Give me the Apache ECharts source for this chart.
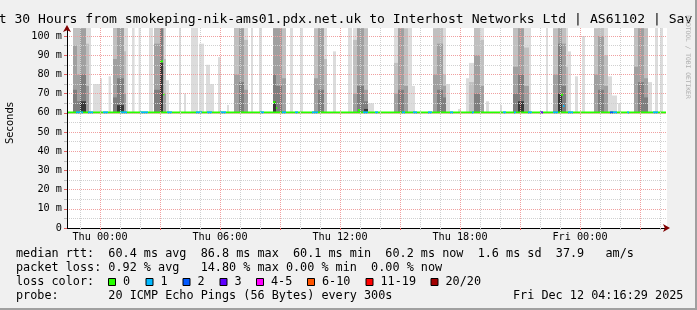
<!DOCTYPE html>
<html><head><meta charset="utf-8">
<script src="https://cdn.jsdelivr.net/npm/echarts@6/dist/echarts.min.js"></script>
<style>
html,body{margin:0;padding:0;background:#f0f0f0;overflow:hidden;}
#c{width:697px;height:310px;position:absolute;left:0;top:0;}
#br{position:absolute;right:0;top:0;width:2px;height:310px;background:#a0a0a0;}
#bb{position:absolute;left:0;bottom:0;width:697px;height:2px;background:#a0a0a0;}
</style></head><body><div id="c"></div><div id="br"></div><div id="bb"></div>
<script>
// ---------- data ----------
// x values are hours relative to Thu 00:00
const hourTicks = [-1,0,1,2,3,4,5,6,7,8,9,10,11,12,13,14,15,16,17,18,19,20,21,22,23,24,25,26,27,28];
const majorHourTicks = [0,3,6,9,12,15,18,21,24,27];
const xLabelHours = [0,6,12,18,24];
const xLabelText = ['Thu 00:00','Thu 06:00','Thu 12:00','Thu 18:00','Fri 00:00'];
const yTicks = [0,5,10,15,20,25,30,35,40,45,50,55,60,65,70,75,80,85,90,95,100];
const yLabelVals = [0,10,20,30,40,50,60,70,80,90,100];
const yLabelText = ['0','10 m','20 m','30 m','40 m','50 m','60 m','70 m','80 m','90 m','100 m'];

// smoke columns: [startHour, endHour, top of band1..band5 (ms)], 0 = band absent, >104 = off chart
const smokeLight = [
  [-0.57,-0.45,110,0,0,0,0],[-0.35,0,75,0,0,0,0],[0,0.1,78,0,0,0,0],[0.43,0.55,79,0,0,0,0],
  [1.3,1.4,110,0,0,0,0],[1.6,1.73,110,0,0,0,0],[1.93,2.03,110,0,0,0,0],[2.45,2.65,110,0,0,0,0],
  [3.3,3.45,77,0,0,0,0],[3.95,4.05,110,0,0,0,0],[4.2,4.3,70,0,0,0,0],[4.55,4.9,110,0,0,0,0],
  [4.95,5.2,96,0,0,0,0],[5.3,5.5,85,0,0,0,0],[5.5,5.7,75,0,0,0,0],[5.9,6.05,89,0,0,0,0],
  [6.35,6.45,64,0,0,0,0],[7.55,7.65,110,0,0,0,0],[7.95,8.1,110,0,0,0,0],[9.5,9.65,110,0,0,0,0],
  [10.0,10.15,110,0,0,0,0],[11.65,11.8,92,0,0,0,0],[12.4,12.6,110,0,0,0,0],[13.4,13.7,65,0,0,0,0],
  [15.4,15.6,110,0,0,0,0],[15.6,15.75,74,0,0,0,0],[17.3,17.5,75,0,0,0,0],[17.9,18.05,62,0,0,0,0],
  [18.3,18.45,78,0,0,0,0],[19.3,19.45,66,0,0,0,0],[20.0,20.1,64,0,0,0,0],[21.45,21.55,110,0,0,0,0],
  [22.3,22.4,110,0,0,0,0],[23.4,23.55,92,0,0,0,0],[23.75,23.9,79,0,0,0,0],[24.1,24.25,100,0,0,0,0],
  [25.4,25.6,79,0,0,0,0],[25.6,25.85,69,0,0,0,0],[25.9,26.05,65,0,0,0,0],[27.4,27.6,76,0,0,0,0],
  [27.75,27.9,110,0,0,0,0],[28.0,28.15,110,0,0,0,0]
];
const smokeBursts = [
  [-1.35,-1.15,110,110,95,72,0],[-1.15,-1.0,110,110,80,66,0],[-1.0,-0.7,110,110,104,80,66],[-0.7,-0.55,110,96,74,0,0],
  [0.65,0.85,110,110,88,68,0],[0.85,1.2,110,110,110,78,64],[1.2,1.3,110,92,70,0,0],
  [2.7,3.0,110,110,96,72,0],[3.0,3.18,110,110,110,104,86],[3.18,3.3,110,88,70,0,0],
  [6.7,6.95,110,110,80,0,0],[6.95,7.2,110,110,104,76,0],[7.2,7.4,110,98,72,0,0],
  [8.65,8.8,110,110,104,80,66],[8.8,9.1,110,110,104,74,0],[9.1,9.3,110,104,78,0,0],
  [10.7,10.9,110,104,78,0,0],[10.9,11.2,110,110,104,72,0],[11.2,11.35,110,88,0,0,0],
  [12.65,12.85,110,98,70,0,0],[12.85,13.2,110,110,104,74,0],[13.2,13.4,110,104,72,66,62],
  [14.7,14.9,110,86,70,0,0],[14.9,15.2,110,110,104,72,0],[15.2,15.4,110,104,74,0,0],
  [16.65,16.85,110,104,80,0,0],[16.85,17.15,110,110,96,72,0],[17.15,17.3,110,80,74,68,0],
  [18.45,18.7,86,76,0,0,0],[18.7,19.0,110,110,90,70,0],[19.0,19.2,110,98,74,0,0],
  [20.65,20.9,110,110,84,70,0],[20.9,21.2,110,110,104,80,66],[21.2,21.45,110,94,74,0,0],
  [22.65,22.9,110,104,80,0,0],[22.9,23.1,110,110,104,96,70],[23.1,23.3,110,110,96,74,0],[23.3,23.4,110,84,0,0,0],
  [24.7,24.9,110,104,80,0,0],[24.9,25.2,110,110,100,72,0],[25.2,25.4,110,90,74,0,0],
  [26.7,26.9,110,110,84,0,0],[26.9,27.2,110,110,104,76,0],[27.2,27.4,110,104,78,68,0]
];
// median rtt runs: [startHour, endHour, median ms, loss colour index]
const medianRuns = [
  [-1.65,28.3,60.2,0],
  [-1.2,-0.85,60.2,1],[-0.6,-0.35,60.2,1],[0.15,0.4,60.2,1],[1.0,1.35,60.2,1],[2.0,2.4,60.2,1],
  [3.35,3.6,60.2,1],[4.8,5.1,60.2,1],[5.35,5.6,60.2,1],[6.0,6.3,60.2,1],[8.0,8.2,60.2,1],
  [9.1,9.3,60.2,1],[9.75,9.9,60.2,1],[10.6,10.9,60.2,1],[13.15,13.4,60.2,1],[13.75,13.9,60.2,1],
  [15.1,15.25,60.2,1],[15.65,15.85,60.2,1],[16.4,16.6,60.2,1],[17.5,17.65,60.2,1],[18.6,18.7,60.2,1],
  [20.15,20.3,60.2,1],[20.7,20.8,60.2,1],[21.4,21.6,60.2,1],[22.0,22.15,60.2,3],[22.65,22.9,60.2,1],
  [23.4,23.65,60.2,1],[25.5,25.65,60.2,2],[25.65,25.85,60.2,1],[26.35,26.45,60.2,1],[27.65,27.9,60.2,1],
  [3.0,3.15,86.8,0],[3.15,3.22,69.6,0],[8.65,8.78,65.5,0],[8.8,8.86,62.5,0],[12.9,13.0,61.5,0],
  [23.05,23.15,69.4,0],[23.15,23.22,63.5,1]
];
const lossLabels = ['0','1','2','3','4-5','6-10','11-19','20/20'];
const lossColors = ['#26ff00','#00b8ff','#0059ff','#5e00ff','#ff00fe','#ff5500','#ff0000','#a10000'];
const legendLines = [
  'median rtt:  60.4 ms avg  86.8 ms max  60.1 ms min  60.2 ms now  1.6 ms sd  37.9   am/s',
  'packet loss: 0.92 % avg   14.80 % max 0.00 % min  0.00 % now',
  'loss color:',
  'probe:       20 ICMP Echo Pings (56 Bytes) every 300s'
];
const stampText = 'Fri Dec 12 04:16:29 2025';
const titleText = 'Last 30 Hours from smokeping-nik-ams01.pdx.net.uk to Interhost Networks Ltd | AS61102 | Sav';

// ---------- layout / style ----------
const Y_MAX = 104.17, H_MIN = -1.65, H_MAX = 28.35, SMOKE_BASE = 60.0;
const shades = ['#dcdcdc','#c0c0c0','#a0a0a0','#7e7e7e','#383838'];
const MONO = '"DejaVu Sans Mono", monospace';
const GRAY = '#d0d0d0', RED = '#f0a0a0';

const chart = echarts.init(document.getElementById('c'), null, {renderer:'canvas'});

function smokeItem(params, api) {
  const h0 = api.value(0), h1 = api.value(1);
  const children = [];
  for (let k = 0; k < 5; k++) {
    const top = api.value(2 + k);
    if (!top) continue;
    const p0 = api.coord([h0, Math.min(top, Y_MAX)]);
    const p1 = api.coord([h1, SMOKE_BASE]);
    children.push({type:'rect', shape:{x:p0[0], y:p0[1], width:p1[0]-p0[0], height:p1[1]-p0[1]},
      style:{fill:shades[k]}});
  }
  return {type:'group', children};
}
function medianItem(params, api) {
  const a = api.coord([api.value(0), api.value(2)]);
  const b = api.coord([api.value(1), api.value(2)]);
  return {type:'rect', shape:{x:a[0], y:a[1]-1, width:b[0]-a[0], height:2},
    style:{fill:lossColors[api.value(3)]}};
}

const graphics = [];
graphics.push({type:'text', x:-25, y:19.5, style:{text:titleText, font:'13.1px ' + MONO, fill:'#000', verticalAlign:'middle'}});
graphics.push({type:'text', x:10.5, y:123, rotation:Math.PI/2, style:{text:'Seconds', font:'10px "DejaVu Sans"', fill:'#000', align:'center', verticalAlign:'middle'}});
graphics.push({type:'text', x:688, y:57, rotation:-Math.PI/2, style:{text:'RRDTOOL / TOBI OETIKER', font:'6.3px ' + MONO, fill:'#b0b0b0', align:'center', verticalAlign:'middle'}});
const lineY = [254.4, 268.2, 282.4, 296.2];
legendLines.forEach((t, i) => graphics.push({type:'text', x:16, y:lineY[i], style:{text:t, font:'11.8px ' + MONO, fill:'#000', verticalAlign:'middle'}}));
graphics.push({type:'text', x:513, y:lineY[3], style:{text:stampText, font:'11.8px ' + MONO, fill:'#000', verticalAlign:'middle'}});
const swX = [108, 145.5, 182.5, 219.5, 256, 307, 365.5, 430.5];
lossLabels.forEach((l, i) => {
  graphics.push({type:'rect', shape:{x:swX[i]+0.5, y:278.5, width:7, height:7}, style:{fill:lossColors[i], stroke:'#000', lineWidth:1}});
  graphics.push({type:'text', x:swX[i]+15, y:lineY[2], style:{text:l, font:'11.8px ' + MONO, fill:'#000', verticalAlign:'middle'}});
});

const option = {
  animation: false,
  backgroundColor: '#f0f0f0',
  grid: {left:67, right:30, top:28, bottom:82, show:true, backgroundColor:'#ffffff', borderWidth:0, containLabel:false, outerBoundsMode:'none'},
  xAxis: [{
    type:'value', min:H_MIN, max:H_MAX, position:'bottom', z:10,
    axisLine:{show:true, onZero:false, lineStyle:{color:'#000', width:1}},
    axisTick:{show:true, customValues:hourTicks, length:2, lineStyle:{color:'#bbbbbb'}},
    axisLabel:{show:true, customValues:xLabelHours, margin:4, color:'#000', fontFamily:'DejaVu Sans Mono', fontSize:10.2,
      formatter:(v)=>xLabelText[xLabelHours.indexOf(Math.round(v))] || ''},
    splitLine:{show:true, lineStyle:{color:[GRAY, RED, GRAY], type:[1,1], width:1}}
  },{
    type:'value', min:H_MIN, max:H_MAX, position:'bottom', z:11,
    axisLine:{show:true, onZero:false, lineStyle:{color:'#800000', width:0}, symbol:['none','arrow'], symbolSize:[6,7], symbolOffset:[0,3]},
    axisTick:{show:true, customValues:majorHourTicks, length:2, lineStyle:{color:'#e06060'}},
    axisLabel:{show:false}, splitLine:{show:false}
  }],
  yAxis: [{
    type:'value', min:0, max:Y_MAX, position:'left', z:10,
    axisLine:{show:true, onZero:false, lineStyle:{color:'#000', width:1}},
    axisTick:{show:true, customValues:yTicks, length:3, lineStyle:{color:'#bbbbbb'}},
    axisLabel:{show:true, customValues:yLabelVals, margin:5, color:'#000', fontFamily:'DejaVu Sans Mono', fontSize:10.2,
      formatter:(v)=>yLabelText[yLabelVals.indexOf(Math.round(v))] || ''},
    splitLine:{show:true, lineStyle:{color:[RED, GRAY], type:[1,1], width:1}}
  },{
    type:'value', min:0, max:Y_MAX, position:'left', z:11,
    axisLine:{show:true, onZero:false, lineStyle:{color:'#800000', width:0}, symbol:['none','arrow'], symbolSize:[6,7], symbolOffset:[0,3]},
    axisTick:{show:true, customValues:yLabelVals, length:3, lineStyle:{color:'#e06060'}},
    axisLabel:{show:false}, splitLine:{show:false}
  }],
  series: [
    {type:'custom', name:'smokeLight', renderItem:smokeItem, data:smokeLight, encode:{x:[0,1], y:[2,3,4,5,6]}, z:2, silent:true},
    {type:'custom', name:'smoke', renderItem:smokeItem, data:smokeBursts, encode:{x:[0,1], y:[2,3,4,5,6]}, z:3, silent:true},
    {type:'custom', name:'median', renderItem:medianItem, data:medianRuns, encode:{x:[0,1], y:2}, z:4, silent:true}
  ],
  graphic: graphics
};
chart.setOption(option);
</script></body></html>
